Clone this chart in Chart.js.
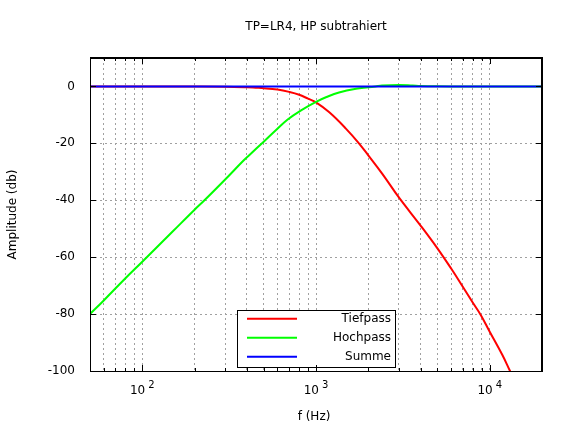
<!DOCTYPE html>
<html>
<head>
<meta charset="utf-8">
<title>TP=LR4, HP subtrahiert</title>
<script src="https://cdn.jsdelivr.net/npm/chart.js@4.4.1/dist/chart.umd.min.js"></script>
<style>
    body { margin: 0; background: #fff; }
    #wrap { width: 576px; height: 432px; }
</style>
</head>
<body>
<div id="wrap"><canvas id="chart" width="576" height="432"></canvas></div>
<script>
    // Tiefpass (LR4), Frequenz in Hz / Pegel in dB
    const tpFreq = [50, 100, 200, 300, 400, 450, 500, 600, 700, 800, 900, 1000, 1193, 1486, 1757, 2000,
                    2415, 3000, 4000, 5000, 6000, 7000, 8000, 8880, 10000, 11810, 13090, 15000];
    const tpDb = [0, -0.01, -0.03, -0.1, -0.3, -0.45, -0.6, -1.1, -1.9, -2.9, -4.3, -5.6, -9.1, -14.8, -19.8, -24.2,
                  -30.8, -39.0, -48.9, -56.9, -64.0, -70.4, -76.0, -80.3, -86.2, -94.3, -100.0, -107.5];

    // Hochpass (subtrahiert)
    const hpFreq = [50, 60, 80, 100, 150, 200, 228, 300, 379, 414, 500, 589, 687, 820, 1000, 1150, 1357, 1700, 2000,
                    2200, 2400, 3000, 3600, 4000, 5000, 7000, 10000, 20000];
    const hpDb = [-80, -75.2, -67.4, -61.6, -50.9, -43.3, -40.0, -32.7, -26.3, -24.1, -19.4, -15.3, -11.6, -8.4, -5.4,
                  -3.7, -2.1, -0.8, -0.3, 0, 0.3, 0.5, 0.3, 0.15, 0.05, 0, 0, 0];

    // Summe
    const sumFreq = [50, 100, 1000, 10000, 20000];
    const sumDb = [0, 0, 0, 0, 0];

    // Achsen
    const xGridValues = [60, 70, 80, 90, 100, 200, 300, 400, 500, 600, 700, 800, 900,
                         1000, 2000, 3000, 4000, 5000, 6000, 7000, 8000, 9000, 10000];
    const xLabelValues = [100, 1000, 10000];
    const yTickValues = [-100, -80, -60, -40, -20, 0];

    const FONT = '12px "DejaVu Sans", sans-serif';
    const FONT_SMALL = '10px "DejaVu Sans", sans-serif';

    const toPoints = (xs, ys) => xs.map((x, i) => ({x: x, y: ys[i]}));

    // gnuplot-artige Deko: Titel, Beschriftungen, Legende, Rahmen, Ticks nach innen
    const deco = {
        id: 'deco',
        afterDraw(chart) {
            const ctx = chart.ctx;
            const a = chart.chartArea;
            const xs = chart.scales.x;
            const ys = chart.scales.y;
            ctx.save();
            ctx.fillStyle = '#000';
            ctx.strokeStyle = '#000';

            ctx.font = FONT;
            ctx.textAlign = 'center';
            ctx.textBaseline = 'alphabetic';
            ctx.fillText('TP=LR4, HP subtrahiert', (a.left + a.right) / 2, 30);

            // x-Beschriftung 10^n
            xLabelValues.forEach(v => {
                const px = xs.getPixelForValue(v);
                const exp = String(Math.round(Math.log10(v)));
                ctx.font = FONT;
                const w1 = ctx.measureText('10').width;
                ctx.font = FONT_SMALL;
                const w2 = ctx.measureText(exp).width;
                const gap = 3;
                const start = px - (w1 + gap + w2) / 2;
                ctx.textAlign = 'left';
                ctx.font = FONT;
                ctx.fillText('10', start, 394);
                ctx.font = FONT_SMALL;
                ctx.fillText(exp, start + w1 + gap, 388);
            });

            // Achsentitel
            ctx.font = FONT;
            ctx.textAlign = 'center';
            ctx.textBaseline = 'middle';
            ctx.fillText('f (Hz)', 314, 417);
            ctx.save();
            ctx.translate(13, (a.top + a.bottom) / 2);
            ctx.rotate(-Math.PI / 2);
            ctx.fillText('Amplitude (db)', 0, 0);
            ctx.restore();

            // Legende
            ctx.fillStyle = '#fff';
            ctx.fillRect(237, 310, 158, 57);
            ctx.lineWidth = 1;
            ctx.strokeRect(237.5, 310.5, 158, 57);
            chart.data.datasets.forEach((ds, i) => {
                const ly = 318.7 + i * 19;
                ctx.strokeStyle = ds.borderColor;
                ctx.lineWidth = 2;
                ctx.beginPath();
                ctx.moveTo(247, ly);
                ctx.lineTo(297, ly);
                ctx.stroke();
                ctx.fillStyle = '#000';
                ctx.textAlign = 'right';
                ctx.textBaseline = 'middle';
                ctx.fillText(ds.label, 391, ly);
            });

            // Rahmen
            ctx.strokeStyle = '#000';
            ctx.lineWidth = 1;
            ctx.beginPath();
            ctx.moveTo(a.left + 0.5, a.top);
            ctx.lineTo(a.left + 0.5, a.bottom + 0.5);
            ctx.lineTo(a.right, a.bottom + 0.5);
            ctx.stroke();
            ctx.lineWidth = 2;
            ctx.beginPath();
            ctx.moveTo(a.left, a.top);
            ctx.lineTo(a.right, a.top);
            ctx.lineTo(a.right, a.bottom + 1);
            ctx.stroke();

            // Ticks nach innen
            ctx.lineWidth = 1;
            ctx.beginPath();
            xGridValues.forEach(v => {
                const px = Math.round(xs.getPixelForValue(v)) + 0.5;
                const len = xLabelValues.includes(v) ? 6 : 3;
                ctx.moveTo(px, a.bottom);
                ctx.lineTo(px, a.bottom - len);
                ctx.moveTo(px, a.top);
                ctx.lineTo(px, a.top + len);
            });
            yTickValues.forEach(v => {
                const py = Math.round(ys.getPixelForValue(v)) + 0.5;
                ctx.moveTo(a.left, py);
                ctx.lineTo(a.left + 6, py);
                ctx.moveTo(a.right, py);
                ctx.lineTo(a.right - 6, py);
            });
            ctx.stroke();
            ctx.restore();
        }
    };

    const gridStyle = {color: '#a0a0a0', lineWidth: 1, drawTicks: false};
    const borderStyle = {display: false, dash: [2, 3]};

    const lineStyle = {borderWidth: 2, pointRadius: 0, tension: 0.4};

    new Chart(document.getElementById('chart'), {
        type: 'line',
        data: {
            datasets: [
                {...lineStyle, label: 'Tiefpass', data: toPoints(tpFreq, tpDb), borderColor: '#ff0000', order: 2},
                {...lineStyle, label: 'Hochpass', data: toPoints(hpFreq, hpDb), borderColor: '#00ff00', order: 1},
                {...lineStyle, label: 'Summe', data: toPoints(sumFreq, sumDb), borderColor: '#0000ff', order: 0}
            ]
        },
        options: {
            responsive: false,
            animation: false,
            devicePixelRatio: 1,
            layout: {padding: {left: 0, top: 58, right: 34, bottom: 0}},
            plugins: {
                legend: {display: false},
                title: {display: false},
                tooltip: {enabled: false}
            },
            scales: {
                x: {
                    type: 'logarithmic',
                    min: 50,
                    max: 20000,
                    afterBuildTicks: s => { s.ticks = xGridValues.map(v => ({value: v})); },
                    afterFit: s => { s.height = 61; },
                    ticks: {display: false, autoSkip: false},
                    grid: gridStyle,
                    border: borderStyle
                },
                y: {
                    type: 'linear',
                    min: -100,
                    max: 10,
                    afterBuildTicks: s => { s.ticks = yTickValues.map(v => ({value: v})); },
                    afterFit: s => { s.width = 90; },
                    ticks: {
                        padding: 15,
                        color: '#000',
                        font: {family: '"DejaVu Sans", sans-serif', size: 12},
                        callback: v => String(v)
                    },
                    grid: gridStyle,
                    border: borderStyle
                }
            }
        },
        plugins: [deco]
    });
</script>
</body>
</html>
